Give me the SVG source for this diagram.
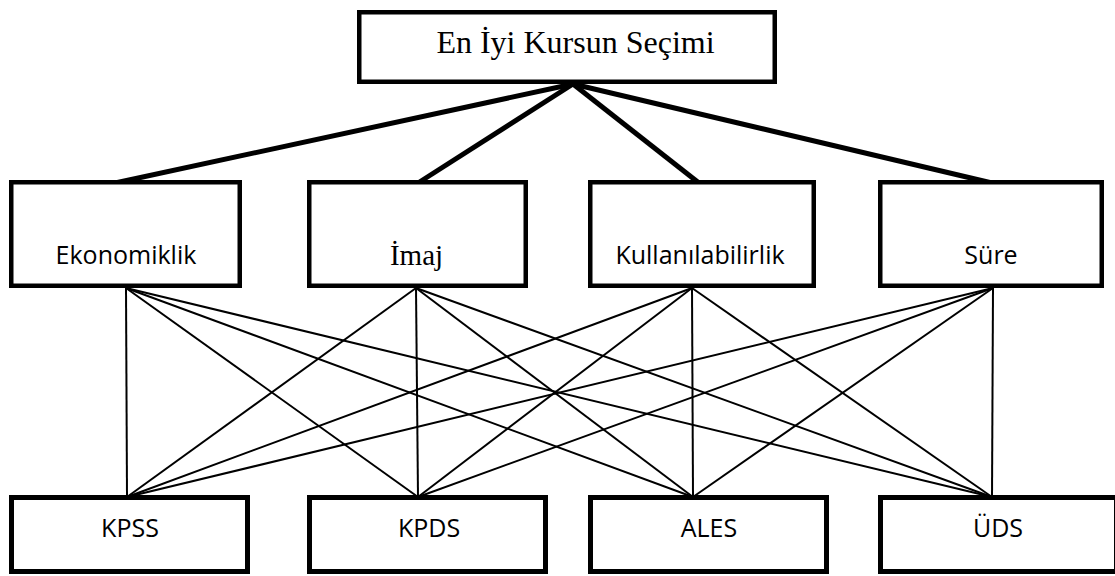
<svg xmlns="http://www.w3.org/2000/svg" width="1115" height="576" viewBox="0 0 1115 576">
<style>
.bg{fill:#fff}
.box{fill:#fff;stroke:#000;stroke-width:4.5}
.bbox{fill:#fff;stroke:#000;stroke-width:5}
.thick{stroke:#000;stroke-width:5;stroke-linecap:butt}
.thin{stroke:#000;stroke-width:2}
.serif{font-family:"Liberation Serif","Times New Roman",serif;fill:#000;text-anchor:middle}
.sans{font-family:"Open Sans","Noto Sans",sans-serif;fill:#000;text-anchor:middle;font-size:25px}
</style>
<rect class="bg" x="0" y="0" width="1115" height="576"/>
<g id="connectors">
<line class="thick" x1="573" y1="84" x2="115" y2="183"/>
<line class="thick" x1="573" y1="84" x2="418" y2="183"/>
<line class="thick" x1="573" y1="84" x2="699" y2="183"/>
<line class="thick" x1="573" y1="84" x2="992" y2="183"/>
<line class="thin" x1="126" y1="288" x2="127" y2="497"/>
<line class="thin" x1="126" y1="288" x2="418" y2="497"/>
<line class="thin" x1="126" y1="288" x2="693" y2="497"/>
<line class="thin" x1="126" y1="288" x2="992" y2="497"/>
<line class="thin" x1="416" y1="288" x2="127" y2="497"/>
<line class="thin" x1="416" y1="288" x2="418" y2="497"/>
<line class="thin" x1="416" y1="288" x2="693" y2="497"/>
<line class="thin" x1="416" y1="288" x2="992" y2="497"/>
<line class="thin" x1="692" y1="288" x2="127" y2="497"/>
<line class="thin" x1="692" y1="288" x2="418" y2="497"/>
<line class="thin" x1="692" y1="288" x2="693" y2="497"/>
<line class="thin" x1="692" y1="288" x2="992" y2="497"/>
<line class="thin" x1="993" y1="288" x2="127" y2="497"/>
<line class="thin" x1="993" y1="288" x2="418" y2="497"/>
<line class="thin" x1="993" y1="288" x2="693" y2="497"/>
<line class="thin" x1="993" y1="288" x2="992" y2="497"/>
</g>
<g id="goal">
<rect class="box" x="359.25" y="12.25" width="415.5" height="69.5"/>
<text class="serif" x="575.5" y="53" font-size="32">En İyi Kursun Seçimi</text>
</g>
<g id="ekonomiklik">
<rect class="box" x="11.25" y="182.25" width="228.5" height="103.5"/>
<text class="sans" x="126" y="264">Ekonomiklik</text>
</g>
<g id="imaj">
<rect class="box" x="309.25" y="182.25" width="216.5" height="103.5"/>
<text class="serif" x="416.5" y="265" font-size="29">İmaj</text>
</g>
<g id="kullanilabilirlik">
<rect class="box" x="590.25" y="182.25" width="223.5" height="103.5"/>
<text class="sans" x="700" y="264">Kullanılabilirlik</text>
</g>
<g id="sure">
<rect class="box" x="880.25" y="182.25" width="221.5" height="103.5"/>
<text class="sans" x="991" y="264">Süre</text>
</g>
<g id="kpss">
<rect class="bbox" x="11.5" y="497.5" width="236" height="74"/>
<text class="sans" x="130" y="537">KPSS</text>
</g>
<g id="kpds">
<rect class="bbox" x="309.5" y="497.5" width="236" height="74"/>
<text class="sans" x="429" y="537">KPDS</text>
</g>
<g id="ales">
<rect class="bbox" x="590.5" y="497.5" width="236" height="74"/>
<text class="sans" x="709" y="537">ALES</text>
</g>
<g id="uds">
<rect class="bbox" x="880.5" y="497.5" width="236" height="74"/>
<text class="sans" x="998" y="537">ÜDS</text>
</g>
</svg>
